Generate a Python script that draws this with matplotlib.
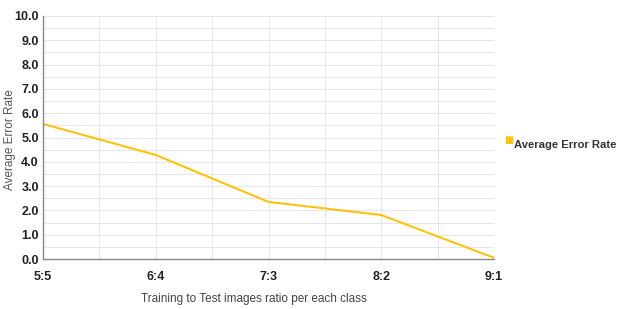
import numpy as np
import matplotlib
matplotlib.use("Agg")
import matplotlib.pyplot as plt
from matplotlib.ticker import MultipleLocator

# data
ratios = ["5:5", "6:4", "7:3", "8:2", "9:1"]
avg_error = [5.56, 4.28, 2.35, 1.81, 0.05]

plt.rcParams['font.family'] = ['Liberation Sans', 'DejaVu Sans']

fig = plt.figure(figsize=(6.19, 3.09), dpi=100)
ax = fig.add_axes([43 / 619, 1 - 259 / 309, 451 / 619, 243 / 309])

x = np.arange(len(ratios))
ax.plot(x, avg_error, color="#FFC20E", linewidth=1.5, label="Average Error Rate")

ax.set_xlim(0, len(ratios) - 1)
ax.set_ylim(0, 10)
ax.set_xticks(x)
ax.set_xticklabels(ratios)
ax.xaxis.set_minor_locator(MultipleLocator(0.5))
ax.set_yticks(np.arange(0, 11))
ax.set_yticklabels([f"{v:.1f}" for v in np.arange(0, 11)])
ax.yaxis.set_minor_locator(MultipleLocator(0.5))

ax.grid(which="both", color="#e6e6e6", linewidth=0.7)
ax.set_axisbelow(True)
for s in ["top", "right"]:
    ax.spines[s].set_visible(False)
for s in ["left", "bottom"]:
    ax.spines[s].set_color("#888888")
    ax.spines[s].set_linewidth(1.0)

ax.tick_params(which="both", length=0)
ax.tick_params(axis="x", pad=9)
ax.tick_params(axis="y", pad=3)
for lab in ax.get_xticklabels() + ax.get_yticklabels():
    lab.set_fontweight("bold")
    lab.set_fontsize(9)
    lab.set_color("#222222")

# axis titles
fig.text(254 / 619, 1 - 299 / 309, "Training to Test images ratio per each class",
         fontsize=8.5, color="#444444", ha="center", va="center")
fig.text(10 / 619, 1 - 140 / 309, "Average Error Rate", fontsize=8.5,
         color="#555555", rotation=90, ha="center", va="center")

# legend on the right
fig.text(509 / 619, 1 - 140 / 309, "\u25a0", color="#FFC20E", fontsize=7,
         ha="center", va="center", family="DejaVu Sans")
fig.text(514 / 619, 1 - 145 / 309, "Average Error Rate", fontsize=8.1,
         fontweight="bold", color="#333333", ha="left", va="center")

fig.savefig("out.png", dpi=100)
